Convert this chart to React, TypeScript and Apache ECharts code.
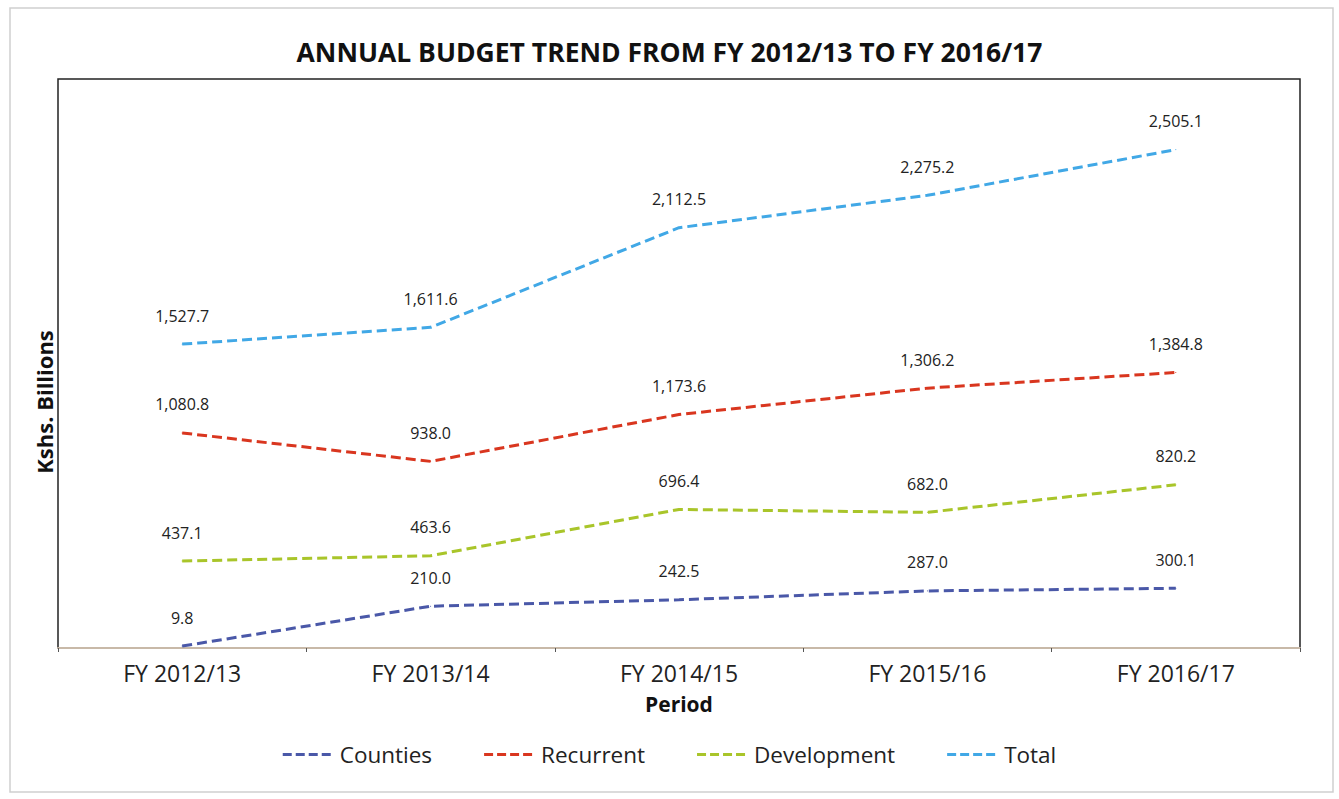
import React, { useEffect, useRef } from "react";
import * as echarts from "echarts";

const categories = ["FY 2012/13", "FY 2013/14", "FY 2014/15", "FY 2015/16", "FY 2016/17"];
const counties = [9.8, 210.0, 242.5, 287.0, 300.1];
const recurrent = [1080.8, 938.0, 1173.6, 1306.2, 1384.8];
const development = [437.1, 463.6, 696.4, 682.0, 820.2];
const total = [1527.7, 1611.6, 2112.5, 2275.2, 2505.1];

const FONT = "'Open Sans', 'Liberation Sans', sans-serif";
const DASH_ICON = "path://M0,0h9v3h-9zM13,0h9v3h-9zM26,0h9v3h-9zM39,0h9v3h-9z";

export default function App() {
  const ref = useRef<HTMLDivElement>(null);
  useEffect(() => {
    if (!ref.current) return;
    const chart = echarts.init(ref.current, undefined, { renderer: "svg" });
    const fmt = (p: any) =>
      Number(p.value).toLocaleString("en-US", { minimumFractionDigits: 1, maximumFractionDigits: 1 });
    const mk = (name: string, data: number[], color: string) => ({
      name,
      type: "line",
      data,
      showSymbol: true,
      symbol: "circle",
      symbolSize: 1,
      itemStyle: { color },
      lineStyle: { color, width: 3, type: [10, 5] },
      label: {
        show: true,
        position: "top",
        distance: 20,
        formatter: fmt,
        color: "#222",
        fontSize: 16,
        fontFamily: FONT,
      },
      labelLayout: { hideOverlap: false },
      z: 3,
    });
    chart.setOption({
      animation: false,
      backgroundColor: "#fff",
      title: {
        text: "ANNUAL BUDGET TREND FROM FY 2012/13 TO FY 2016/17",
        left: "center",
        top: 33,
        textStyle: { fontFamily: FONT, fontWeight: "bold", fontSize: 26.5, color: "#111" },
      },
      grid: {
        left: 58,
        right: 39,
        top: 79,
        height: 569,
        show: true,
        borderColor: "#222",
        borderWidth: 1.5,
        backgroundColor: "transparent",
      },
      legend: {
        top: 738,
        left: "center",
        itemWidth: 48,
        itemHeight: 3,
        itemGap: 52,
        icon: DASH_ICON,
        textStyle: { fontFamily: FONT, fontSize: 22.5, color: "#222", padding: [0, 0, 0, 4] },
        data: ["Counties", "Recurrent", "Development", "Total"],
      },
      xAxis: {
        type: "category",
        data: categories,
        boundaryGap: true,
        axisLine: { show: true, lineStyle: { color: "#c8b9a8", width: 2 } },
        axisTick: { show: true, length: 4, lineStyle: { color: "#555" } },
        axisLabel: { fontFamily: FONT, fontSize: 23, color: "#222", margin: 13 },
        name: "Period",
        nameLocation: "middle",
        nameGap: 45,
        nameTextStyle: { fontFamily: FONT, fontSize: 21, fontWeight: "bold", color: "#111" },
      },
      yAxis: {
        type: "value",
        min: 0,
        max: 2860,
        show: false,
        splitLine: { show: false },
      },
      graphic: [
        {
          type: "rect",
          shape: { x: 10, y: 8, width: 1323, height: 784 },
          style: { fill: "none", stroke: "#cfcfcf", lineWidth: 1.5 },
          silent: true,
          z: -10,
        },
        {
          type: "text",
          x: 44,
          y: 402,
          rotation: Math.PI / 2,
          style: {
            text: "Kshs. Billions",
            fontFamily: FONT,
            fontSize: 22,
            fontWeight: "bold",
            fill: "#111",
            align: "center",
            verticalAlign: "middle",
          },
        },
      ],
      series: [
        mk("Counties", counties, "#4a58a8"),
        mk("Recurrent", recurrent, "#d9361f"),
        mk("Development", development, "#a9c52a"),
        mk("Total", total, "#41a8e6"),
      ],
    });
    return () => chart.dispose();
  }, []);
  return (
    <div
      ref={ref}
      style={{ position: "fixed", left: 0, top: 0, width: 1339, height: 799 }}
    />
  );
}
